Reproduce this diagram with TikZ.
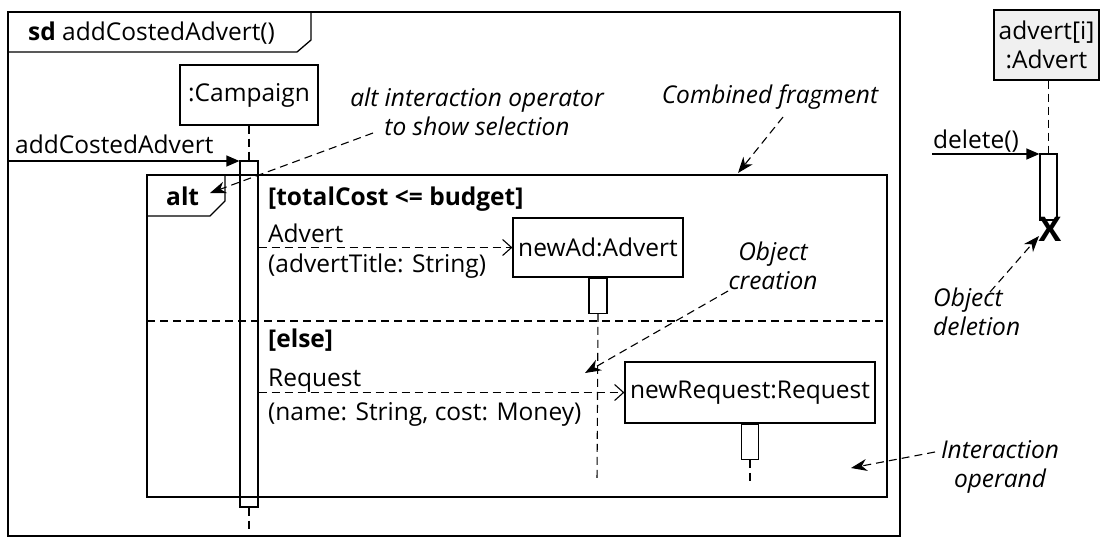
\documentclass[tikz,border=0pt]{standalone}
\usepackage{fontspec}
\setmainfont{Open Sans}
\usetikzlibrary{arrows.meta}
\newcommand\diafont{\fontsize{24.5}{29}\selectfont}
\tikzset{
  lbl/.style={inner sep=0pt, font=\diafont},
  note/.style={inner sep=0pt, font=\diafont\itshape, align=center},
  obj/.style={draw, line width=1.2pt, inner sep=0pt, font=\diafont, align=center},
  actbar/.style={draw, line width=1.2pt, inner sep=0pt, minimum width=18pt},
  life/.style={line width=1.1pt, dash pattern=on 8pt off 5pt},
  sync/.style={line width=1.2pt, -{Triangle[length=13pt,width=11pt]}},
  create/.style={line width=1.1pt, dash pattern=on 8pt off 5pt, -{Straight Barb[length=9pt,width=16pt,line width=1.1pt]}},
  notearrow/.style={line width=1.1pt, dash pattern=on 8pt off 5pt, -{Stealth[length=16pt,width=12pt,inset=5pt]}},
  framel/.style={line width=1.3pt},
}
\begin{document}
\begin{tikzpicture}[x=1pt,y=-1pt]
\useasboundingbox (0,0) rectangle (1102,538);

% sd frame
\draw[framel] (8,12) rectangle (900,536);
\draw[framel] (8,52) -- (297,52) -- (311,40) -- (311,12);
\node[lbl, anchor=base west] (sdname) at (28,40) {\textbf{sd} addCostedAdvert()};

% Campaign lifeline
\node[obj, minimum width=138pt, minimum height=60pt] (campaign) at (249,95) {:Campaign};
\node[actbar, minimum height=346pt] (campact) at (249,334) {};
\draw[life] (campaign.south) -- (campact.north);
\coordinate (campend) at (249,530);
\draw[life] (campact.south) -- (campend);

% incoming message
\coordinate (gate) at (8,161);
\draw[sync] (gate) -- (gate -| campact.west);
\node[lbl, anchor=base west] (msg) at (15,153) {addCostedAdvert};

% alt combined fragment
\draw[framel] (147,175) rectangle (887,497);
\draw[framel] (147,216) -- (210,216) -- (225,201) -- (225,175);
\node[lbl, anchor=base west] (altlbl) at (166,205) {\textbf{alt}};
\draw[life] (147,321) -- (887,321);

% first operand
\node[lbl, anchor=base west] (guard1) at (268,205) {\textbf{[totalCost <= budget]}};
\node[obj, minimum width=170pt, minimum height=59pt] (newad) at (598,247.5) {newAd:Advert};
\node[actbar, minimum height=35pt, anchor=north] (newadact) at (newad.south) {};
\coordinate (newadend) at (597,482);
\draw[life] (newadact.south) -- (newadend);
\draw[create] (campact.east |- newad.west) -- (newad.west);
\node[lbl, anchor=base west] (advlbl) at (268,242) {Advert};
\node[lbl, anchor=base west] (advarg) at (268,272) {(advertTitle: String)};

% second operand
\node[lbl, anchor=base west] (guard2) at (268,347) {\textbf{[else]}};
\node[obj, minimum width=250pt, minimum height=61pt] (newreq) at (750,392.5) {newRequest:Request};
\node[actbar, minimum width=17pt, minimum height=35pt, anchor=north] (newreqact) at (newreq.south) {};
\coordinate (newreqend) at (750,484);
\draw[life] (newreqact.south) -- (newreqend);
\draw[create] (campact.east |- newreq.west) -- (newreq.west);
\node[lbl, anchor=base west] (reqlbl) at (268,386) {Request};
\node[lbl, anchor=base west] (reqarg) at (268,420) {(name: String, cost: Money)};

% annotations
\node[note] (altnote) at (477,112) {alt interaction operator\\to show selection};
\coordinate (altnotestart) at (373,133);
\coordinate (altnotetip) at (210,193);
\draw[notearrow] (altnotestart) -- (altnotetip);

\node[note, anchor=base] (cfnote) at (770,103) {Combined fragment};
\coordinate (cfstart) at (783,117);
\coordinate (cftip) at (738,173);
\draw[notearrow] (cfstart) -- (cftip);

\node[note] (ocnote) at (773,266) {Object\\creation};
\coordinate (ocstart) at (728,291);
\coordinate (octip) at (585,373);
\draw[notearrow] (ocstart) -- (octip);

\node[note] (ionote) at (1000,467) {Interaction\\operand};
\coordinate (iostart) at (935,452);
\coordinate (iotip) at (851,468);
\draw[notearrow] (iostart) -- (iotip);

% right part: deletion
\node[obj, fill=black!6, minimum width=105pt, minimum height=70pt] (advert) at (1046.5,45) {advert[i]\\:Advert};
\node[actbar, minimum width=17pt, minimum height=66pt] (delact) at (1048.5,187) {};
\draw[life] (advert.south -| delact.north) -- (delact.north);
\coordinate (delgate) at (932,154);
\draw[sync] (delgate) -- (delgate -| delact.west);
\node[lbl, anchor=base west] (dellbl) at (933,148) {delete()};
\node[inner sep=0pt, font=\fontsize{34}{34}\selectfont\bfseries] (xmark) at (1050,229) {X};
\node[note, align=left, anchor=north west] (odnote) at (933,288) {Object\\deletion};
\coordinate (odstart) at (990,292);
\coordinate (odtip) at (1039,236);
\draw[notearrow] (odstart) -- (odtip);
\end{tikzpicture}
\end{document}
